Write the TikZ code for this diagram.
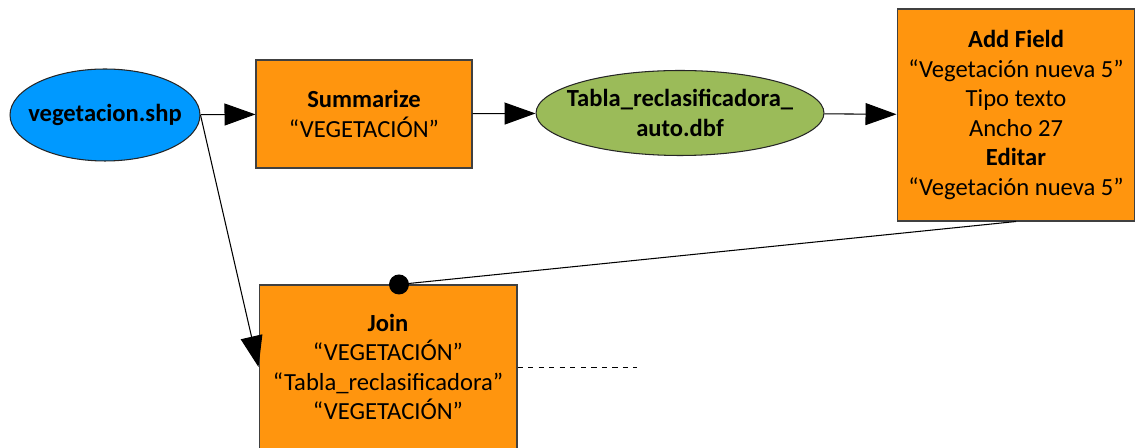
\documentclass[tikz,border=0pt]{standalone}
\usepackage{fontspec}
\setmainfont{Carlito}
\usetikzlibrary{shapes.geometric,arrows.meta,positioning}

\definecolor{toolorange}{HTML}{FF950E}
\definecolor{shpblue}{HTML}{0099FF}
\definecolor{dbfgreen}{HTML}{9BBB59}

\begin{document}
\begin{tikzpicture}[x=0.02cm,y=-0.02cm,line width=0.6pt,
  font=\fontsize{14}{16.8}\selectfont,
  >={Triangle[length=0.62cm,width=0.44cm]}]
  \tikzstyle{datafile}=[ellipse, draw=black!85, inner xsep=-0.6cm, inner ysep=0pt, align=center, font=\fontsize{14}{16.8}\selectfont\bfseries]
  \tikzstyle{tool}=[rectangle, draw=black!75, fill=toolorange, inner sep=0pt, align=center]
  \useasboundingbox (0,0) rectangle (1135,448);

  % inputs and tables
  \node[datafile, fill=shpblue, minimum width=3.8cm, minimum height=1.84cm] (veg) at (105,115) {vegetacion.shp};
  \node[tool, minimum width=4.32cm, minimum height=2.16cm] (summ) at (364,114) {\textbf{Summarize}\\“VEGETACIÓN”};
  \node[datafile, fill=dbfgreen, minimum width=5.76cm, minimum height=1.7cm] (tabla) at (680,113) {Tabla\_reclasificadora\_\\auto.dbf};
  \node[tool, minimum width=4.76cm, minimum height=4.24cm] (addf) at (1016,115)
    {\textbf{Add Field}\\“Vegetación nueva 5”\\Tipo texto\\Ancho 27\\\textbf{Editar}\\“Vegetación nueva 5”};
  %join box runs past the bottom edge
  \node[tool, minimum width=5.16cm, minimum height=3.28cm] (join) at (388,367)
    {\textbf{Join}\\“VEGETACIÓN”\\“Tabla\_reclasificadora”\\“VEGETACIÓN”};
  \coordinate (jdot) at ([xshift=0.22cm]join.north);
  \coordinate (jfree) at (637,367);

  % connectors
  \draw[->] (veg) -- (summ);
  \draw[->] (summ) -- (tabla);
  \draw[->] (tabla) -- (addf);
  \draw[->] (veg.east) -- (join.west);
  \draw (addf.south) -- (jdot);
  \fill (jdot) circle (0.2cm);
  \draw[dashed, line width=0.5pt] (join.east) -- (jfree);
\end{tikzpicture}
\end{document}
